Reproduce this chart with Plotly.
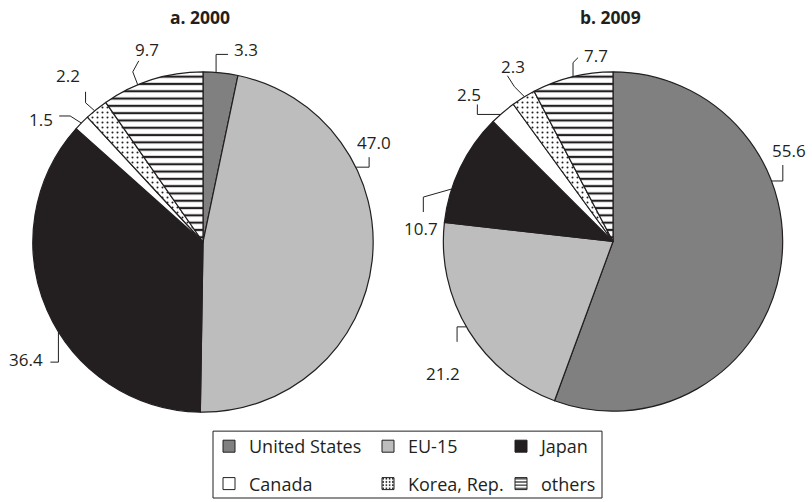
import math
import plotly.graph_objects as go

# Shares of exports by destination, in percent
categories = ["United States", "EU-15", "Japan", "Canada", "Korea, Rep.", "others"]
share_2000 = [3.3, 47.0, 36.4, 1.5, 2.2, 9.7]
share_2009 = [55.6, 21.2, 10.7, 2.5, 2.3, 7.7]
value_labels_2000 = ["3.3", "47.0", "36.4", "1.5", "2.2", "9.7"]
value_labels_2009 = ["55.6", "21.2", "10.7", "2.5", "2.3", "7.7"]
panel_titles = ["a. 2000", "b. 2009"]

# Styling
W, H = 812, 502
INK = "#231f20"
fill_colors = ["#808080", "#bdbdbd", "#231f20", "#ffffff", "#ffffff", "#ffffff"]
pattern_shapes = ["", "", "", "", ".", "-"]
pattern_sizes = [6, 6, 6, 6, 5, 7.3]
pattern_solidity = [0.2, 0.2, 0.2, 0.2, 0.13, 0.3]
FONT = "Open Sans"
LABEL_SIZE = 17
LEGEND_SIZE = 18
TITLE_SIZE = 17.5

# Pie geometry in pixels: centre x, centre y, radius
pies = [(203.0, 242.5, 170.5), (613.0, 242.0, 170.0)]

# Leader-line layout per slice: rim angle (deg, clockwise from 12 o'clock),
# successive elbow offsets in px, text offset from line end, text anchor
leaders_2000 = [
    (4.4, [(0, -18), (12, 0)], (4, -5), "left"),
    (63.9, [(13, 0), (0, -10)], (5, -15), "center"),
    (238.0, [(0, 30), (-8, 0)], (-5, -3), "right"),
    (314.4, [(-11, -7), (-11, 0)], (-4, 4), "right"),
    (320.5, [(-9, -8), (0, -11)], (-4, -16), "right"),
    (337.5, [(-5, -13), (6, -11)], (8, -11), "center"),
]
leaders_2009 = [
    (69.1, [(11, 0), (0, -16)], (6, -15), "center"),
    (239.8, [(-9, 0), (0, 15)], (5, 32), "right"),
    (288.0, [(-28, 8), (0, 15)], (-2, 16), "center"),
    (318.5, [(-23, 0), (0, -10)], (-8, -10), "center"),
    (328.6, [(-10, -10), (-7, -11)], (6, -9), "center"),
    (346.4, [(0, -14), (5, -5)], (4, -2), "left"),
]


def px(x, y):
    return x / W, 1 - y / H


fig = go.Figure()

for (cx, cy, r), shares, year in zip(pies, [share_2000, share_2009], ["2000", "2009"]):
    fig.add_trace(go.Pie(
        labels=categories,
        values=shares,
        sort=False,
        direction="clockwise",
        rotation=0,
        textinfo="none",
        hoverinfo="label+value",
        showlegend=False,
        name=year,
        marker=dict(
            colors=fill_colors,
            line=dict(color=INK, width=1.2),
            pattern=dict(shape=pattern_shapes, fgcolor=INK, size=pattern_sizes,
                         solidity=pattern_solidity, fillmode="replace"),
        ),
        domain=dict(x=[(cx - r) / W, (cx + r) / W], y=[1 - (cy + r) / H, 1 - (cy - r) / H]),
    ))

# Legend entries, laid out in three columns of two
legend_names = ["legend", "legend2", "legend3"]
for i, name in enumerate(categories):
    fig.add_trace(go.Bar(
        x=[None], y=[None], name=name,
        legend=legend_names[i % 3], legendgroup=name,
        marker=dict(color=fill_colors[i], line=dict(color=INK, width=1),
                    pattern=dict(shape=pattern_shapes[i], fgcolor=INK, size=4,
                                 solidity=0.25 if i == 4 else 0.35, fillmode="replace")),
        hoverinfo="skip",
    ))

shapes = []
annotations = []
for (cx, cy, r), leaders, texts in zip(pies, [leaders_2000, leaders_2009],
                                       [value_labels_2000, value_labels_2009]):
    for (ang, steps, (tx, ty), anchor), text in zip(leaders, texts):
        a = math.radians(ang)
        x, y = cx + r * math.sin(a), cy - r * math.cos(a)
        pts = [(x, y)]
        for dx, dy in steps:
            x, y = x + dx, y + dy
            pts.append((x, y))
        path = "M" + " L".join("{:.5f},{:.5f}".format(*px(*p)) for p in pts)
        shapes.append(dict(type="path", path=path, xref="paper", yref="paper",
                           line=dict(color=INK, width=1)))
        ax, ay = px(x + tx, y + ty)
        annotations.append(dict(text=text, x=ax, y=ay, xref="paper", yref="paper",
                                xanchor=anchor, yanchor="middle", showarrow=False,
                                font=dict(family=FONT, size=LABEL_SIZE, color=INK)))

for (cx, cy, r), title in zip(pies, panel_titles):
    tx, ty = px(cx - 3, 17)
    annotations.append(dict(text="<b>" + title + "</b>", x=tx, y=ty, xref="paper", yref="paper",
                            xanchor="center", yanchor="middle", showarrow=False,
                            font=dict(family=FONT, size=TITLE_SIZE, color=INK)))

# Legend frame
bx0, by0 = px(213, 432)
bx1, by1 = px(602, 499)
shapes.append(dict(type="rect", x0=bx0, y0=by1, x1=bx1, y1=by0, xref="paper", yref="paper",
                   line=dict(color=INK, width=1), fillcolor="rgba(0,0,0,0)", layer="above"))

legend_style = dict(orientation="v", traceorder="grouped", tracegroupgap=11,
                    bgcolor="rgba(0,0,0,0)", borderwidth=0, itemwidth=30,
                    font=dict(family=FONT, size=LEGEND_SIZE, color=INK),
                    xanchor="left", yanchor="top", itemclick=False, itemdoubleclick=False)
legend_x = [209, 368, 501]
legends = {}
for name, lx in zip(legend_names, legend_x):
    x, y = px(lx, 429)
    legends[name] = dict(legend_style, x=x, y=y)

fig.update_layout(
    width=W, height=H,
    margin=dict(l=0, r=0, t=0, b=0),
    paper_bgcolor="white", plot_bgcolor="white",
    xaxis=dict(visible=False), yaxis=dict(visible=False),
    shapes=shapes, annotations=annotations,
    showlegend=True,
    **legends,
)

fig.write_html("out.html")
